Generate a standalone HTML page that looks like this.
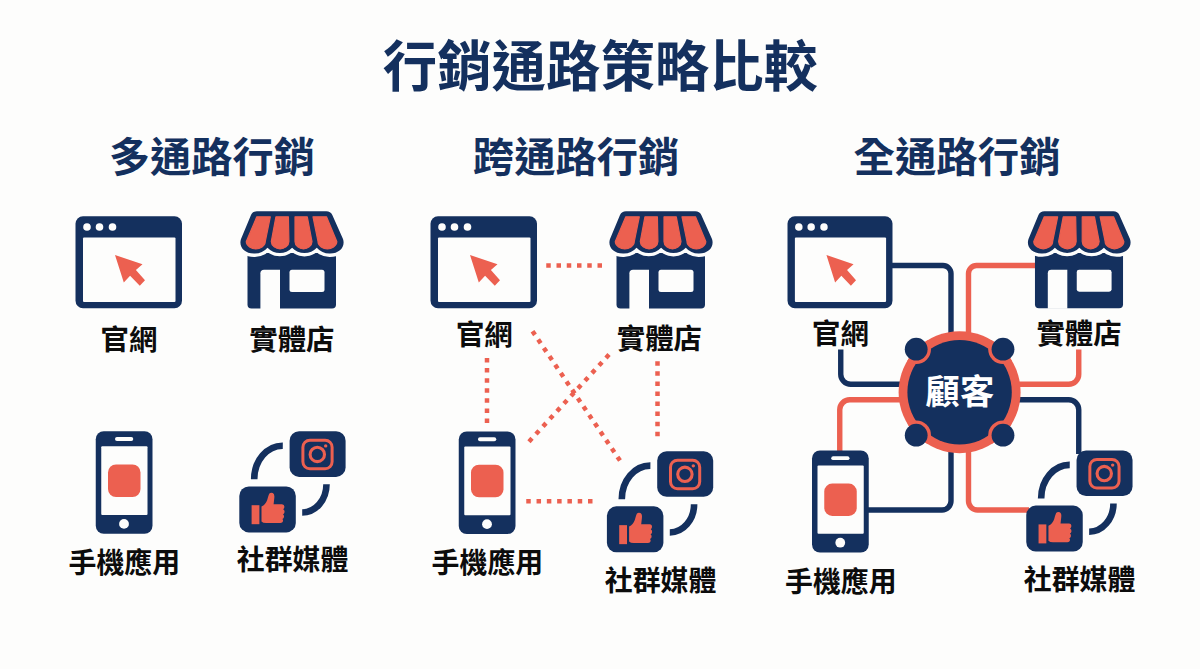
<!DOCTYPE html>
<html lang="zh-Hant"><head><meta charset="utf-8"><title>行銷通路策略比較</title>
<style>html,body{margin:0;padding:0;background:#fdfdfc;font-family:"Liberation Sans",sans-serif}svg{display:block}text{font-family:"Liberation Sans","Noto Sans CJK TC",sans-serif;font-weight:bold}</style>
</head><body>
<svg width="1200" height="669" viewBox="0 0 1200 669">
<rect width="1200" height="669" fill="#fdfdfc"/>
<text x="382.8" y="85.7" font-size="54.4" fill="#14305e" textLength="435.2" lengthAdjust="spacingAndGlyphs">行銷通路策略比較</text>
<text x="108.9" y="172.2" font-size="41.2" fill="#14305e" textLength="206" lengthAdjust="spacingAndGlyphs">多通路行銷</text>
<text x="472.85" y="172.2" font-size="41.3" fill="#14305e" textLength="206.5" lengthAdjust="spacingAndGlyphs">跨通路行銷</text>
<text x="853.55" y="172.2" font-size="41.4" fill="#14305e" textLength="207" lengthAdjust="spacingAndGlyphs">全通路行銷</text>
<g transform="translate(75.50 216.25) scale(1.0000 1.0000)"><rect x="0" y="0" width="106.5" height="92" rx="7.5" fill="#14305e"/><rect x="7.5" y="21.25" width="92.5" height="64.5" rx="1" fill="#fdfdfc"/><circle cx="11.5" cy="10.75" r="3.8" fill="#fdfdfc"/><circle cx="24.0" cy="10.75" r="3.8" fill="#fdfdfc"/><circle cx="37.0" cy="10.75" r="3.8" fill="#fdfdfc"/><path d="M39.5 38.75 L67 48 L60.4 53.8 L69.5 64 L64.3 69.5 L54.6 59.4 L48.3 66.25 Z" fill="#ec6050"/></g>
<g transform="translate(240.50 211.30) scale(1.0000 1.0000) translate(-240.5 -211.3)"><path d="M247.5 250 H336 V304.4 Q336 308.5 332 308.5 H251.5 Q247.5 308.5 247.5 304.4 Z" fill="#14305e"/><path d="M257 211.3 H326.3 Q330.5 211.3 332.3 215 L343 239 C345.5 246.5 340 253.6 330 253.6 A17 17 0 0 1 316.8 247.8 A17 17 0 0 1 292.1 247.8 A17 17 0 0 1 267.5 247.8 A17 17 0 0 1 254 253.6 C244 253.6 238.5 246.5 241 239 L251 215 Q252.8 211.3 257 211.3 Z" fill="#14305e" stroke="#fdfdfc" stroke-width="6.6" stroke-linejoin="round"/><path d="M257 211.3 H326.3 Q330.5 211.3 332.3 215 L343 239 C345.5 246.5 340 253.6 330 253.6 A17 17 0 0 1 316.8 247.8 A17 17 0 0 1 292.1 247.8 A17 17 0 0 1 267.5 247.8 A17 17 0 0 1 254 253.6 C244 253.6 238.5 246.5 241 239 L251 215 Q252.8 211.3 257 211.3 Z" fill="#14305e"/><path d="M256.8 216.8 H270.3 L265.3 241.5 C265.3 246.0 259.8 248.9 255.8 248.9 C251.8 248.9 246.3 246.0 246.3 241.5 Z" fill="#ec6050" stroke="#ec6050" stroke-width="1.2" stroke-linejoin="round"/><path d="M275.9 216.8 H288.4 L288.9 241.5 C288.9 246.0 284.1 248.9 280.1 248.9 C276.1 248.9 271.3 246.0 271.3 241.5 Z" fill="#ec6050" stroke="#ec6050" stroke-width="1.2" stroke-linejoin="round"/><path d="M295.0 216.8 H307.3 L312.0 241.5 C312.0 246.0 307.5 248.9 303.5 248.9 C299.5 248.9 295.0 246.0 295.0 241.5 Z" fill="#ec6050" stroke="#ec6050" stroke-width="1.2" stroke-linejoin="round"/><path d="M313.0 216.8 H326.5 L336.8 241.5 C336.8 246.0 331.4 248.9 327.4 248.9 C323.4 248.9 318.0 246.0 318.0 241.5 Z" fill="#ec6050" stroke="#ec6050" stroke-width="1.2" stroke-linejoin="round"/><path d="M260.4 309 V273.3 Q260.4 269.8 264 269.8 H280 V309 Z" fill="#fdfdfc"/><rect x="289.5" y="269.8" width="35" height="22.2" rx="2.5" fill="#fdfdfc"/></g>
<g transform="translate(95.75 431.25) scale(1.0000 1.0000) translate(-95.75 -431.25)"><rect x="95.75" y="431.25" width="56.75" height="102.5" rx="8" fill="#14305e"/><rect x="101.25" y="446.25" width="46.25" height="68.75" rx="1" fill="#fdfdfc"/><rect x="115" y="437" width="18.25" height="3.9" rx="1.95" fill="#fdfdfc"/><circle cx="124" cy="523.9" r="4.9" fill="#fdfdfc"/><rect x="108" y="464.5" width="32.5" height="32.5" rx="8" fill="#ec6050"/></g>
<g transform="translate(239.30 431.30) scale(1.0000 1.0000) translate(-239.3 -431.3)"><rect x="289.6" y="431.3" width="56" height="45.6" rx="9.5" fill="#14305e"/><rect x="239.3" y="486.4" width="56.5" height="46" rx="9.5" fill="#14305e"/><path d="M254.2 479.3 A28.4 33.6 0 0 1 282.8 445.7" fill="none" stroke="#14305e" stroke-width="6.6"/><path d="M326.5 484.3 A24.3 28.2 0 0 1 302.2 512.5" fill="none" stroke="#14305e" stroke-width="6.6"/><rect x="302.9" y="440.2" width="29.2" height="28.6" rx="7" fill="none" stroke="#ec6050" stroke-width="3"/><circle cx="317.3" cy="454.4" r="7.2" fill="none" stroke="#ec6050" stroke-width="3.1"/><circle cx="325.7" cy="445.9" r="1.7" fill="#ec6050"/><rect x="251.6" y="505.2" width="7.8" height="19" fill="#ec6050"/><path d="M261.5 506.5 Q265.5 504.8 267.2 500 Q268.2 496 269.2 493.8 Q270.5 492.2 272.8 493 Q274.8 494.2 274.3 498 L273.6 504.3 H282 Q284.6 504.6 284.4 507 Q284.3 508.6 283.2 509.2 Q284.8 510.2 284.5 512.2 Q284.3 513.7 283 514.2 Q284.3 515.3 284 517 Q283.7 518.6 282.4 519 Q283.3 520 283 521.3 Q282.5 523 280.5 523 H266 Q263 523 261.5 521.5 Z" fill="#ec6050"/></g>
<text x="100.6" y="350.2" font-size="28.4" fill="#0c0c0c" textLength="56.8" lengthAdjust="spacingAndGlyphs">官網</text>
<text x="249.3" y="350.2" font-size="28.4" fill="#0c0c0c" textLength="85.2" lengthAdjust="spacingAndGlyphs">實體店</text>
<text x="68.5" y="572.6" font-size="27.9" fill="#0c0c0c" textLength="111.6" lengthAdjust="spacingAndGlyphs">手機應用</text>
<text x="236.8" y="570.3" font-size="27.9" fill="#0c0c0c" textLength="111.6" lengthAdjust="spacingAndGlyphs">社群媒體</text>
<g transform="translate(430.50 216.25) scale(1.0000 1.0000)"><rect x="0" y="0" width="106.5" height="92" rx="7.5" fill="#14305e"/><rect x="7.5" y="21.25" width="92.5" height="64.5" rx="1" fill="#fdfdfc"/><circle cx="11.5" cy="10.75" r="3.8" fill="#fdfdfc"/><circle cx="24.0" cy="10.75" r="3.8" fill="#fdfdfc"/><circle cx="37.0" cy="10.75" r="3.8" fill="#fdfdfc"/><path d="M39.5 38.75 L67 48 L60.4 53.8 L69.5 64 L64.3 69.5 L54.6 59.4 L48.3 66.25 Z" fill="#ec6050"/></g>
<g transform="translate(609.50 211.30) scale(1.0000 1.0000) translate(-240.5 -211.3)"><path d="M247.5 250 H336 V304.4 Q336 308.5 332 308.5 H251.5 Q247.5 308.5 247.5 304.4 Z" fill="#14305e"/><path d="M257 211.3 H326.3 Q330.5 211.3 332.3 215 L343 239 C345.5 246.5 340 253.6 330 253.6 A17 17 0 0 1 316.8 247.8 A17 17 0 0 1 292.1 247.8 A17 17 0 0 1 267.5 247.8 A17 17 0 0 1 254 253.6 C244 253.6 238.5 246.5 241 239 L251 215 Q252.8 211.3 257 211.3 Z" fill="#14305e" stroke="#fdfdfc" stroke-width="6.6" stroke-linejoin="round"/><path d="M257 211.3 H326.3 Q330.5 211.3 332.3 215 L343 239 C345.5 246.5 340 253.6 330 253.6 A17 17 0 0 1 316.8 247.8 A17 17 0 0 1 292.1 247.8 A17 17 0 0 1 267.5 247.8 A17 17 0 0 1 254 253.6 C244 253.6 238.5 246.5 241 239 L251 215 Q252.8 211.3 257 211.3 Z" fill="#14305e"/><path d="M256.8 216.8 H270.3 L265.3 241.5 C265.3 246.0 259.8 248.9 255.8 248.9 C251.8 248.9 246.3 246.0 246.3 241.5 Z" fill="#ec6050" stroke="#ec6050" stroke-width="1.2" stroke-linejoin="round"/><path d="M275.9 216.8 H288.4 L288.9 241.5 C288.9 246.0 284.1 248.9 280.1 248.9 C276.1 248.9 271.3 246.0 271.3 241.5 Z" fill="#ec6050" stroke="#ec6050" stroke-width="1.2" stroke-linejoin="round"/><path d="M295.0 216.8 H307.3 L312.0 241.5 C312.0 246.0 307.5 248.9 303.5 248.9 C299.5 248.9 295.0 246.0 295.0 241.5 Z" fill="#ec6050" stroke="#ec6050" stroke-width="1.2" stroke-linejoin="round"/><path d="M313.0 216.8 H326.5 L336.8 241.5 C336.8 246.0 331.4 248.9 327.4 248.9 C323.4 248.9 318.0 246.0 318.0 241.5 Z" fill="#ec6050" stroke="#ec6050" stroke-width="1.2" stroke-linejoin="round"/><path d="M260.4 309 V273.3 Q260.4 269.8 264 269.8 H280 V309 Z" fill="#fdfdfc"/><rect x="289.5" y="269.8" width="35" height="22.2" rx="2.5" fill="#fdfdfc"/></g>
<g transform="translate(458.75 431.50) scale(1.0000 1.0000) translate(-95.75 -431.25)"><rect x="95.75" y="431.25" width="56.75" height="102.5" rx="8" fill="#14305e"/><rect x="101.25" y="446.25" width="46.25" height="68.75" rx="1" fill="#fdfdfc"/><rect x="115" y="437" width="18.25" height="3.9" rx="1.95" fill="#fdfdfc"/><circle cx="124" cy="523.9" r="4.9" fill="#fdfdfc"/><rect x="108" y="464.5" width="32.5" height="32.5" rx="8" fill="#ec6050"/></g>
<g transform="translate(606.90 451.25) scale(1.0000 1.0000) translate(-239.3 -431.3)"><rect x="289.6" y="431.3" width="56" height="45.6" rx="9.5" fill="#14305e"/><rect x="239.3" y="486.4" width="56.5" height="46" rx="9.5" fill="#14305e"/><path d="M254.2 479.3 A28.4 33.6 0 0 1 282.8 445.7" fill="none" stroke="#14305e" stroke-width="6.6"/><path d="M326.5 484.3 A24.3 28.2 0 0 1 302.2 512.5" fill="none" stroke="#14305e" stroke-width="6.6"/><rect x="302.9" y="440.2" width="29.2" height="28.6" rx="7" fill="none" stroke="#ec6050" stroke-width="3"/><circle cx="317.3" cy="454.4" r="7.2" fill="none" stroke="#ec6050" stroke-width="3.1"/><circle cx="325.7" cy="445.9" r="1.7" fill="#ec6050"/><rect x="251.6" y="505.2" width="7.8" height="19" fill="#ec6050"/><path d="M261.5 506.5 Q265.5 504.8 267.2 500 Q268.2 496 269.2 493.8 Q270.5 492.2 272.8 493 Q274.8 494.2 274.3 498 L273.6 504.3 H282 Q284.6 504.6 284.4 507 Q284.3 508.6 283.2 509.2 Q284.8 510.2 284.5 512.2 Q284.3 513.7 283 514.2 Q284.3 515.3 284 517 Q283.7 518.6 282.4 519 Q283.3 520 283 521.3 Q282.5 523 280.5 523 H266 Q263 523 261.5 521.5 Z" fill="#ec6050"/></g>
<text x="455.9" y="344.8" font-size="28.4" fill="#0c0c0c" textLength="56.8" lengthAdjust="spacingAndGlyphs">官網</text>
<text x="616.8" y="349.2" font-size="28.4" fill="#0c0c0c" textLength="85.2" lengthAdjust="spacingAndGlyphs">實體店</text>
<text x="431.6" y="572.9" font-size="27.9" fill="#0c0c0c" textLength="111.6" lengthAdjust="spacingAndGlyphs">手機應用</text>
<text x="604.8" y="590.5" font-size="27.9" fill="#0c0c0c" textLength="111.6" lengthAdjust="spacingAndGlyphs">社群媒體</text>
<path d="M546.25 265.50 L602.00 265.50" stroke="#ec6050" stroke-width="4.50" stroke-dasharray="4.500 5.750" fill="none"/>
<path d="M487.00 358.00 L487.00 423.00" stroke="#ec6050" stroke-width="4.50" stroke-dasharray="4.500 5.583" fill="none"/>
<path d="M657.50 361.25 L657.50 436.25" stroke="#ec6050" stroke-width="4.50" stroke-dasharray="4.500 5.571" fill="none"/>
<path d="M532.49 331.14 L620.01 460.61" stroke="#ec6050" stroke-width="4.50" stroke-dasharray="4.500 5.619" fill="none"/>
<path d="M609.02 354.59 L528.98 441.66" stroke="#ec6050" stroke-width="4.50" stroke-dasharray="4.500 5.843" fill="none"/>
<path d="M526.25 501.25 L592.50 501.25" stroke="#ec6050" stroke-width="4.50" stroke-dasharray="4.500 5.792" fill="none"/>
<path d="M890 265.5 H943.00 A8 8 0 0 1 951 273.50 V345" fill="none" stroke="#14305e" stroke-width="5.4" stroke-linejoin="round"/>
<path d="M1038 265.5 H976.50 A8 8 0 0 0 968.5 273.50 V345" fill="none" stroke="#ec6050" stroke-width="5.4" stroke-linejoin="round"/>
<path d="M840.75 349.5 V374.30 A10 10 0 0 0 850.75 384.3 H910" fill="none" stroke="#14305e" stroke-width="5.4" stroke-linejoin="round"/>
<path d="M1078.75 349.5 V374.30 A10 10 0 0 1 1068.75 384.3 H1010" fill="none" stroke="#ec6050" stroke-width="5.4" stroke-linejoin="round"/>
<path d="M910 399.8 H849.75 A10 10 0 0 0 839.75 409.80 V454" fill="none" stroke="#ec6050" stroke-width="5.4" stroke-linejoin="round"/>
<path d="M1010 399.8 H1068.75 A10 10 0 0 1 1078.75 409.80 V454" fill="none" stroke="#14305e" stroke-width="5.4" stroke-linejoin="round"/>
<path d="M951 440 V501.00 A9 9 0 0 1 942.00 510 H866" fill="none" stroke="#14305e" stroke-width="5.4" stroke-linejoin="round"/>
<path d="M968.5 440 V501.00 A9 9 0 0 0 977.50 510 H1029" fill="none" stroke="#ec6050" stroke-width="5.4" stroke-linejoin="round"/>
<g transform="translate(787.50 216.25) scale(0.9859 1.0000)"><rect x="0" y="0" width="106.5" height="92" rx="7.5" fill="#14305e"/><rect x="7.5" y="21.25" width="92.5" height="64.5" rx="1" fill="#fdfdfc"/><circle cx="11.5" cy="10.75" r="3.8" fill="#fdfdfc"/><circle cx="24.0" cy="10.75" r="3.8" fill="#fdfdfc"/><circle cx="37.0" cy="10.75" r="3.8" fill="#fdfdfc"/><path d="M39.5 38.75 L67 48 L60.4 53.8 L69.5 64 L64.3 69.5 L54.6 59.4 L48.3 66.25 Z" fill="#ec6050"/></g>
<g transform="translate(1028.00 211.30) scale(0.9951 0.9979) translate(-240.5 -211.3)"><path d="M247.5 250 H336 V304.4 Q336 308.5 332 308.5 H251.5 Q247.5 308.5 247.5 304.4 Z" fill="#14305e"/><path d="M257 211.3 H326.3 Q330.5 211.3 332.3 215 L343 239 C345.5 246.5 340 253.6 330 253.6 A17 17 0 0 1 316.8 247.8 A17 17 0 0 1 292.1 247.8 A17 17 0 0 1 267.5 247.8 A17 17 0 0 1 254 253.6 C244 253.6 238.5 246.5 241 239 L251 215 Q252.8 211.3 257 211.3 Z" fill="#14305e" stroke="#fdfdfc" stroke-width="6.6" stroke-linejoin="round"/><path d="M257 211.3 H326.3 Q330.5 211.3 332.3 215 L343 239 C345.5 246.5 340 253.6 330 253.6 A17 17 0 0 1 316.8 247.8 A17 17 0 0 1 292.1 247.8 A17 17 0 0 1 267.5 247.8 A17 17 0 0 1 254 253.6 C244 253.6 238.5 246.5 241 239 L251 215 Q252.8 211.3 257 211.3 Z" fill="#14305e"/><path d="M256.8 216.8 H270.3 L265.3 241.5 C265.3 246.0 259.8 248.9 255.8 248.9 C251.8 248.9 246.3 246.0 246.3 241.5 Z" fill="#ec6050" stroke="#ec6050" stroke-width="1.2" stroke-linejoin="round"/><path d="M275.9 216.8 H288.4 L288.9 241.5 C288.9 246.0 284.1 248.9 280.1 248.9 C276.1 248.9 271.3 246.0 271.3 241.5 Z" fill="#ec6050" stroke="#ec6050" stroke-width="1.2" stroke-linejoin="round"/><path d="M295.0 216.8 H307.3 L312.0 241.5 C312.0 246.0 307.5 248.9 303.5 248.9 C299.5 248.9 295.0 246.0 295.0 241.5 Z" fill="#ec6050" stroke="#ec6050" stroke-width="1.2" stroke-linejoin="round"/><path d="M313.0 216.8 H326.5 L336.8 241.5 C336.8 246.0 331.4 248.9 327.4 248.9 C323.4 248.9 318.0 246.0 318.0 241.5 Z" fill="#ec6050" stroke="#ec6050" stroke-width="1.2" stroke-linejoin="round"/><path d="M260.4 309 V273.3 Q260.4 269.8 264 269.8 H280 V309 Z" fill="#fdfdfc"/><rect x="289.5" y="269.8" width="35" height="22.2" rx="2.5" fill="#fdfdfc"/></g>
<g transform="translate(812.00 450.50) scale(1.0000 0.9951) translate(-95.75 -431.25)"><rect x="95.75" y="431.25" width="56.75" height="102.5" rx="8" fill="#14305e"/><rect x="101.25" y="446.25" width="46.25" height="68.75" rx="1" fill="#fdfdfc"/><rect x="115" y="437" width="18.25" height="3.9" rx="1.95" fill="#fdfdfc"/><circle cx="124" cy="523.9" r="4.9" fill="#fdfdfc"/><rect x="108" y="464.5" width="32.5" height="32.5" rx="8" fill="#ec6050"/></g>
<g transform="translate(1026.25 450.50) scale(1.0000 1.0000) translate(-239.3 -431.3)"><rect x="289.6" y="431.3" width="56" height="45.6" rx="9.5" fill="#14305e"/><rect x="239.3" y="486.4" width="56.5" height="46" rx="9.5" fill="#14305e"/><path d="M254.2 479.3 A28.4 33.6 0 0 1 282.8 445.7" fill="none" stroke="#14305e" stroke-width="6.6"/><path d="M326.5 484.3 A24.3 28.2 0 0 1 302.2 512.5" fill="none" stroke="#14305e" stroke-width="6.6"/><rect x="302.9" y="440.2" width="29.2" height="28.6" rx="7" fill="none" stroke="#ec6050" stroke-width="3"/><circle cx="317.3" cy="454.4" r="7.2" fill="none" stroke="#ec6050" stroke-width="3.1"/><circle cx="325.7" cy="445.9" r="1.7" fill="#ec6050"/><rect x="251.6" y="505.2" width="7.8" height="19" fill="#ec6050"/><path d="M261.5 506.5 Q265.5 504.8 267.2 500 Q268.2 496 269.2 493.8 Q270.5 492.2 272.8 493 Q274.8 494.2 274.3 498 L273.6 504.3 H282 Q284.6 504.6 284.4 507 Q284.3 508.6 283.2 509.2 Q284.8 510.2 284.5 512.2 Q284.3 513.7 283 514.2 Q284.3 515.3 284 517 Q283.7 518.6 282.4 519 Q283.3 520 283 521.3 Q282.5 523 280.5 523 H266 Q263 523 261.5 521.5 Z" fill="#ec6050"/></g>
<text x="812.1" y="344.2" font-size="28.4" fill="#0c0c0c" textLength="56.8" lengthAdjust="spacingAndGlyphs">官網</text>
<text x="1036.4" y="344.2" font-size="28.4" fill="#0c0c0c" textLength="85.2" lengthAdjust="spacingAndGlyphs">實體店</text>
<text x="785" y="592.2" font-size="27.9" fill="#0c0c0c" textLength="111.6" lengthAdjust="spacingAndGlyphs">手機應用</text>
<text x="1023.8" y="589.6" font-size="27.9" fill="#0c0c0c" textLength="111.6" lengthAdjust="spacingAndGlyphs">社群媒體</text>
<clipPath id="hubclip"><circle cx="959.6" cy="392.2" r="61"/></clipPath>
<circle cx="959.6" cy="392.2" r="61" fill="#ec6050"/>
<circle cx="959.6" cy="392.2" r="52.2" fill="#14305e"/>
<circle cx="916.2" cy="349.2" r="14.8" fill="#ec6050" clip-path="url(#hubclip)"/>
<circle cx="916.2" cy="435.2" r="14.8" fill="#ec6050" clip-path="url(#hubclip)"/>
<circle cx="1003.0" cy="349.2" r="14.8" fill="#ec6050" clip-path="url(#hubclip)"/>
<circle cx="1003.0" cy="435.2" r="14.8" fill="#ec6050" clip-path="url(#hubclip)"/>
<circle cx="916.2" cy="349.2" r="11.4" fill="#14305e"/>
<circle cx="916.2" cy="435.2" r="11.4" fill="#14305e"/>
<circle cx="1003.0" cy="349.2" r="11.4" fill="#14305e"/>
<circle cx="1003.0" cy="435.2" r="11.4" fill="#14305e"/>
<text x="925.6" y="404.1" font-size="34.3" fill="#ffffff" textLength="68.6" lengthAdjust="spacingAndGlyphs">顧客</text>
</svg>
</body></html>
